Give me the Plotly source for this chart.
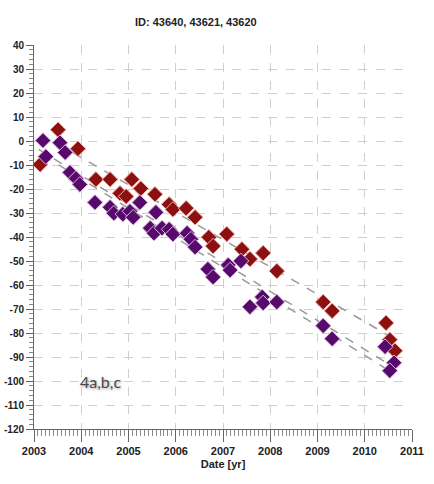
import plotly.graph_objects as go

# ---- data ----
red_year = [2003.13, 2003.51, 2003.93, 2004.31, 2004.61, 2004.82, 2004.95, 2005.07, 2005.26,
            2005.56, 2005.86, 2005.94, 2006.22, 2006.41, 2006.70, 2006.79, 2007.08, 2007.40,
            2007.57, 2007.85, 2008.14, 2009.12, 2009.31, 2010.45, 2010.53, 2010.64]
red_val = [-9.8, 4.7, -3.2, -16.0, -16.0, -21.8, -23.1, -16.0, -19.8,
           -22.2, -26.4, -28.5, -28.0, -31.8, -40.1, -43.8, -38.8, -45.1,
           -49.2, -46.7, -54.2, -67.1, -70.8, -75.8, -82.8, -87.4]

pur_year = [2003.19, 2003.55, 2003.66, 2003.25, 2003.76, 2003.89, 2003.97, 2004.29, 2004.61,
            2004.69, 2004.88, 2005.03, 2005.10, 2005.24, 2005.46, 2005.58, 2005.54, 2005.71,
            2005.86, 2005.94, 2006.24, 2006.32, 2006.41, 2006.68, 2006.79, 2007.11, 2007.15,
            2007.38, 2007.57, 2007.83, 2007.85, 2008.14, 2009.12, 2009.31, 2010.43, 2010.62,
            2010.53]
pur_val = [0.2, -0.7, -4.8, -6.5, -13.1, -15.6, -18.1, -25.6, -27.6,
           -30.1, -30.5, -29.3, -31.8, -25.6, -36.3, -29.7, -38.4, -36.3,
           -36.8, -38.8, -38.4, -40.9, -44.2, -53.4, -56.7, -51.7, -53.8,
           -50.0, -69.1, -65.0, -67.5, -67.1, -77.0, -82.4, -85.7, -92.4,
           -95.7]

# trend lines (end points)
trend_red_year = [2003.5, 2010.65]
trend_red_val = [-1.2, -82.7]
trend_p1_year = [2003.1, 2010.55]
trend_p1_val = [-3.5, -93.5]
trend_p2_year = [2003.2, 2010.5]
trend_p2_val = [-6.0, -95.5]

x_tickvals = [2003, 2004, 2005, 2006, 2007, 2008, 2009, 2010, 2011]
x_ticktext = ["2003", "2004", "2005", "2006", "2007", "2008", "2009", "2010", "2011"]
y_tickvals = [40, 30, 20, 10, 0, -10, -20, -30, -40, -50, -60, -70, -80, -90, -100, -110, -120]
y_ticktext = ["40", "30", "20", "10", "0", "-10", "-20", "-30", "-40", "-50", "-60", "-70",
              "-80", "-90", "-100", "-110", "-120"]

title_text = "ID: 43640, 43621, 43620"
xlabel = "Date [yr]"
note_text = "4a,b,c"

RED = "#8c1010"
PURPLE = "#580a6c"

fig = go.Figure()
for xs, ys in [(trend_red_year, trend_red_val), (trend_p1_year, trend_p1_val),
               (trend_p2_year, trend_p2_val)]:
    fig.add_trace(go.Scatter(x=xs, y=ys, mode="lines",
                             line=dict(color="#9a9a9a", width=1.5, dash="dash"),
                             showlegend=False, hoverinfo="skip"))

fig.add_trace(go.Scatter(x=red_year, y=red_val, mode="markers",
                         marker=dict(symbol="diamond", size=12, color=RED,
                                     line=dict(color="#f0b0a8", width=1)),
                         showlegend=False))
fig.add_trace(go.Scatter(x=pur_year, y=pur_val, mode="markers",
                         marker=dict(symbol="diamond", size=12, color=PURPLE,
                                     line=dict(color="#d8b8e0", width=1)),
                         showlegend=False))

xtickfont = dict(family="Liberation Sans", size=11, color="#222222", weight="bold")
ytickfont = dict(family="Liberation Sans", size=10, color="#222222", weight="bold")

fig.update_layout(
    template="none",
    width=434, height=484,
    margin=dict(l=34, r=22, t=45, b=55, autoexpand=False),
    paper_bgcolor="white", plot_bgcolor="white",
    showlegend=False,
    xaxis=dict(range=[2003, 2011], tickvals=x_tickvals, ticktext=x_ticktext,
               ticks="outside", ticklen=12, tickcolor="#666", tickwidth=1,
               showline=True, linecolor="#666", linewidth=1,
               showgrid=True, gridcolor="#cfcfcf", griddash="dash", gridwidth=1,
               zeroline=False, tickfont=xtickfont, automargin=False,
               minor=dict(dtick=1/12, tick0=2003, ticks="outside", ticklen=6,
                          tickcolor="#888", showgrid=False),
               title=dict(text=xlabel, font=dict(family="Liberation Sans", size=11,
                                                  color="#222", weight="bold"), standoff=4)),
    yaxis=dict(range=[-120, 40], tickvals=y_tickvals, ticktext=y_ticktext,
               ticks="outside", ticklen=7, tickcolor="#666", tickwidth=1,
               showline=True, linecolor="#666", linewidth=1,
               showgrid=True, gridcolor="#cfcfcf", griddash="dash", gridwidth=1,
               zeroline=False, tickfont=ytickfont, automargin=False,
               minor=dict(dtick=2, tick0=0, ticks="outside", ticklen=4,
                          tickcolor="#888", showgrid=False)),
    annotations=[
        dict(text=title_text, xref="paper", yref="paper", x=(196 - 34) / 378, y=1,
             yshift=23, showarrow=False, xanchor="center", yanchor="middle",
             font=dict(family="Liberation Sans", size=11, color="#222", weight="bold")),
        dict(text=note_text, x=2004.4, y=-100, xref="x", yref="y", showarrow=False,
             font=dict(family="Lato", size=16, color="#4a4a4a",
                       shadow="1px 1px 3px #999")),
    ],
)

fig.write_html("out.html")
